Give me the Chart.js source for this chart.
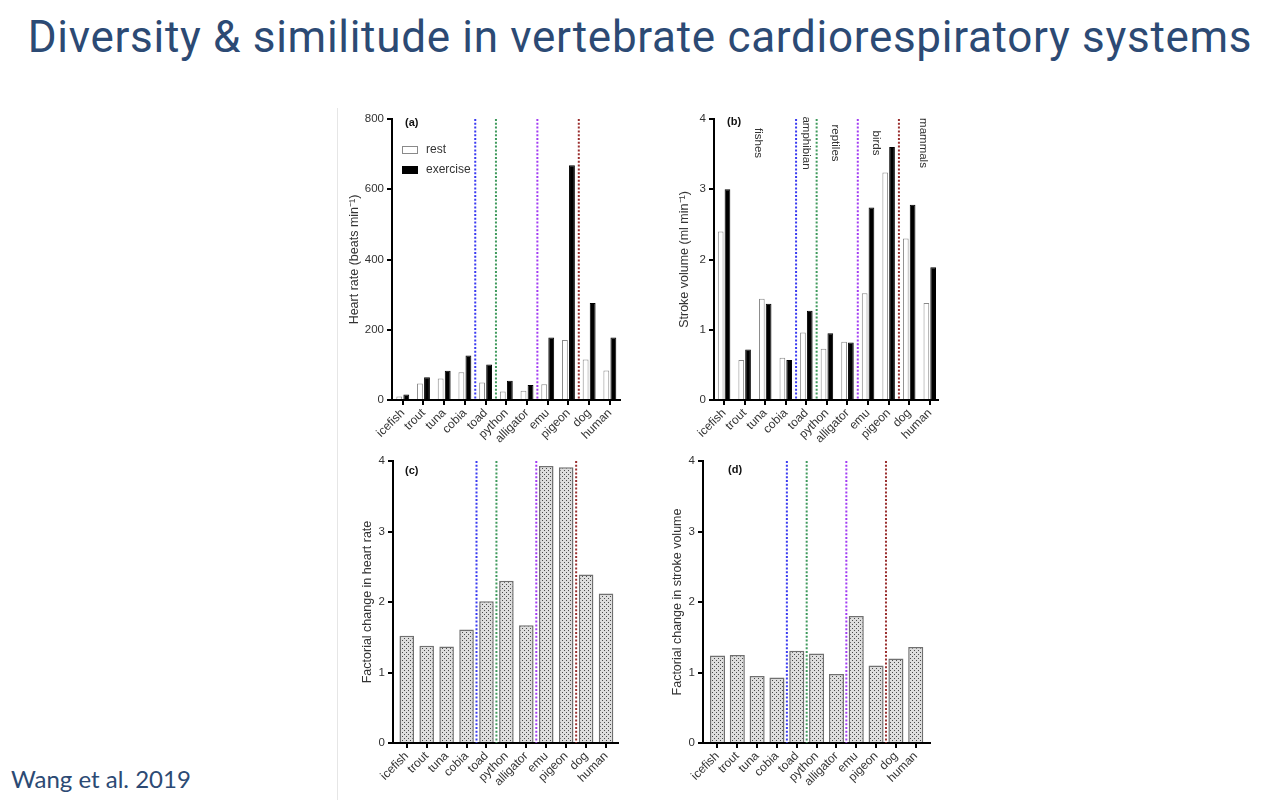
<!DOCTYPE html>
<html>
<head>
<meta charset="utf-8">
<script src="https://cdn.jsdelivr.net/npm/chart.js@4.4.1/dist/chart.umd.min.js"></script>
<style>
  body { margin: 0; width: 1280px; height: 800px; background: #fff; position: relative; overflow: hidden; }
  h1 { position: absolute; left: 0; right: 0; top: 15px; margin: 0; text-align: center;
       font: 400 44px/44px Roboto, sans-serif; letter-spacing: 0.7px; color: #2c4a74; white-space: nowrap; }
  .cite { position: absolute; left: 11px; top: 767px; font: 400 24px/24px Lato, sans-serif; color: #2c4a74; }
  .frame { position: absolute; left: 337px; top: 108px; width: 1px; height: 692px; background: #e6e6e6; }
  canvas { position: absolute; }
</style>
</head>
<body>
<h1>Diversity &amp; similitude in vertebrate cardiorespiratory systems</h1>
<div class="frame"></div>
<canvas id="hr" width="290" height="350" style="left:340px;top:100px"></canvas>
<canvas id="sv" width="280" height="350" style="left:670px;top:100px"></canvas>
<canvas id="hrf" width="290" height="350" style="left:340px;top:450px"></canvas>
<canvas id="svf" width="280" height="350" style="left:670px;top:450px"></canvas>
<div class="cite">Wang et al. 2019</div>
<script>
// Daten
const SPECIES = ["icefish", "trout", "tuna", "cobia", "toad", "python", "alligator", "emu", "pigeon", "dog", "human"];
const HR_REST = [10, 47, 61, 79, 50, 24, 26, 45, 171, 115, 84];
const HR_EXERCISE = [16, 65, 83, 127, 101, 55, 43, 178, 668, 276, 178];
const SV_REST = [2.40, 0.57, 1.44, 0.60, 0.96, 0.73, 0.83, 1.52, 3.24, 2.30, 1.38];
const SV_EXERCISE = [3.00, 0.72, 1.37, 0.57, 1.27, 0.95, 0.82, 2.74, 3.60, 2.78, 1.89];
const HR_FACTOR = [1.52, 1.38, 1.37, 1.61, 2.01, 2.30, 1.67, 3.93, 3.91, 2.39, 2.12];
const SV_FACTOR = [1.24, 1.25, 0.95, 0.93, 1.31, 1.27, 0.98, 1.80, 1.10, 1.20, 1.36];
// Gruppengrenzen (zwischen Kategorien) und Gruppennamen
const DIVIDER_AT = [3.5, 4.5, 6.5, 8.5];
const DIVIDER_COLORS = ["#3a3af2", "#3f9a5c", "#a33cf4", "#9a2f2f"];
const GROUP_NAMES = ["fishes", "amphibian", "reptiles", "birds", "mammals"];
const GROUP_AT = [1.65, 4.0, 5.4, 7.4, 9.7];

const FONT = "'Liberation Sans', Arial, sans-serif";
const TEXT = "#333";
Chart.defaults.font.family = FONT;
Chart.defaults.font.size = 12;
Chart.defaults.color = TEXT;

// Punktraster für die Faktor-Balken
function dotPattern() {
  const c = document.createElement("canvas");
  c.width = 4; c.height = 4;
  const g = c.getContext("2d");
  g.fillStyle = "#dedede";
  g.fillRect(0, 0, 4, 4);
  g.fillStyle = "#4a4a4a";
  g.fillRect(0, 0, 1, 1);
  g.fillRect(2, 2, 1, 1);
  return g.createPattern(c, "repeat");
}

const toXY = (arr) => arr.map((v, i) => ({ x: i, y: v }));

// Trennlinien, Gruppennamen, Legende, Panel-Buchstabe
const panelDecor = {
  id: "panelDecor",
  afterDatasetsDraw(chart, args, o) {
    const { ctx, chartArea: a, scales: { x } } = chart;
    ctx.save();
    ctx.lineWidth = 2;
    ctx.setLineDash([2, 1.8]);
    DIVIDER_AT.forEach((at, i) => {
      const px = x.getPixelForValue(at);
      ctx.strokeStyle = DIVIDER_COLORS[i];
      ctx.beginPath();
      ctx.moveTo(px, a.top);
      ctx.lineTo(px, a.bottom);
      ctx.stroke();
    });
    ctx.setLineDash([]);

    ctx.fillStyle = "#111";
    ctx.font = "bold 11px " + FONT;
    ctx.textBaseline = "middle";
    ctx.textAlign = "left";
    ctx.fillText(o.letter, a.left + o.letterDx, a.top + o.letterDy);

    if (o.groups) {
      ctx.font = "11.5px " + FONT;
      ctx.fillStyle = TEXT;
      ctx.textAlign = "center";
      GROUP_NAMES.forEach((name, i) => {
        ctx.save();
        ctx.translate(x.getPixelForValue(GROUP_AT[i]), a.top + 24);
        ctx.rotate(Math.PI / 2);
        ctx.fillText(name, 0, 0);
        ctx.restore();
      });
    }

    if (o.legend) {
      ctx.font = "12px " + FONT;
      ctx.textAlign = "left";
      chart.data.datasets.forEach((ds, i) => {
        const y = a.top + 27 + i * 20;
        ctx.fillStyle = ds.backgroundColor;
        ctx.fillRect(a.left + 10.5, y + 0.5, 15, 7);
        ctx.strokeStyle = ds.borderColor;
        ctx.lineWidth = 1;
        ctx.strokeRect(a.left + 10.5, y + 0.5, 15, 7);
        ctx.fillStyle = TEXT;
        ctx.fillText(ds.label, a.left + 34, y + 4);
      });
    }
    ctx.restore();
  },
};

function makePanel(canvasId, p) {
  const el = document.getElementById(canvasId);
  return new Chart(el, {
    type: "bar",
    data: { datasets: p.datasets },
    plugins: [panelDecor],
    options: {
      responsive: false,
      animation: false,
      layout: { padding: { left: 0, right: p.padRight, top: p.padTop, bottom: 0 } },
      plugins: { legend: { display: false }, tooltip: { enabled: false }, panelDecor: p.decor },
      scales: {
        x: {
          type: "linear",
          offset: false,
          min: p.xMin,
          max: p.xMax,
          afterFit: (s) => { s.height = p.xHeight; },
          afterBuildTicks: (s) => { s.ticks = SPECIES.map((_, i) => ({ value: i })); },
          grid: { offset: false, drawOnChartArea: false, tickLength: 5, lineWidth: 2, color: "#000" },
          border: { display: true, color: "#000", width: 2 },
          ticks: {
            autoSkip: false, minRotation: 45, maxRotation: 45, padding: 1,
            font: { size: 12 }, color: TEXT,
            callback: (v) => SPECIES[v],
          },
        },
        y: {
          min: 0,
          max: p.yMax,
          afterFit: (s) => { s.width = p.yWidth; },
          grid: { drawOnChartArea: false, tickLength: 5, lineWidth: 2, color: "#000" },
          border: { display: true, color: "#000", width: 2 },
          ticks: { stepSize: p.yStep, padding: 3, font: { size: 11.5 }, color: TEXT },
          title: {
            display: true, text: p.yTitle, color: TEXT,
            font: { size: 12.5 }, padding: { top: p.titlePad, bottom: 0 },
          },
        },
      },
    },
  });
}

const restStyle = { backgroundColor: "#ffffff", borderColor: "#8a8a8a", borderWidth: 1 };
const exStyle = { backgroundColor: "#000000", borderColor: "#000000", borderWidth: 1 };

makePanel("hr", {
  datasets: [
    { label: "rest", data: toXY(HR_REST), ...restStyle, categoryPercentage: 0.68, barPercentage: 0.83 },
    { label: "exercise", data: toXY(HR_EXERCISE), ...exStyle, categoryPercentage: 0.68, barPercentage: 0.83 },
  ],
  xMin: -0.52, xMax: 10.49, padRight: 10, padTop: 19, xHeight: 50, yWidth: 52,
  yMax: 800, yStep: 200, yTitle: "Heart rate (beats min⁻¹)", titlePad: 7,
  decor: { letter: "(a)", letterDx: 13, letterDy: 4, legend: true, groups: false },
});

makePanel("sv", {
  datasets: [
    { label: "rest", data: toXY(SV_REST), ...restStyle, categoryPercentage: 0.66, barPercentage: 0.84 },
    { label: "exercise", data: toXY(SV_EXERCISE), ...exStyle, categoryPercentage: 0.66, barPercentage: 0.84 },
  ],
  xMin: -0.49, xMax: 10.4, padRight: 12, padTop: 19, xHeight: 50, yWidth: 44,
  yMax: 4, yStep: 1, yTitle: "Stroke volume (ml min⁻¹)", titlePad: 7,
  decor: { letter: "(b)", letterDx: 13, letterDy: 3, legend: false, groups: true },
});

const pattern = dotPattern();

makePanel("hrf", {
  datasets: [
    { label: "factor", data: toXY(HR_FACTOR), backgroundColor: pattern, borderColor: "#707070",
      borderWidth: 1.5, categoryPercentage: 1, barPercentage: 0.73 },
  ],
  xMin: -0.69, xMax: 10.6, padRight: 12, padTop: 11, xHeight: 57, yWidth: 53,
  yMax: 4, yStep: 1, yTitle: "Factorial change in heart rate", titlePad: 20,
  decor: { letter: "(c)", letterDx: 12, letterDy: 10, legend: false, groups: false },
});

makePanel("svf", {
  datasets: [
    { label: "factor", data: toXY(SV_FACTOR), backgroundColor: pattern, borderColor: "#707070",
      borderWidth: 1.5, categoryPercentage: 1, barPercentage: 0.76 },
  ],
  xMin: -0.73, xMax: 10.72, padRight: 20, padTop: 11, xHeight: 57, yWidth: 33,
  yMax: 4, yStep: 1, yTitle: "Factorial change in stroke volume", titlePad: 0,
  decor: { letter: "(d)", letterDx: 25, letterDy: 9, legend: false, groups: false },
});
</script>
</body>
</html>
